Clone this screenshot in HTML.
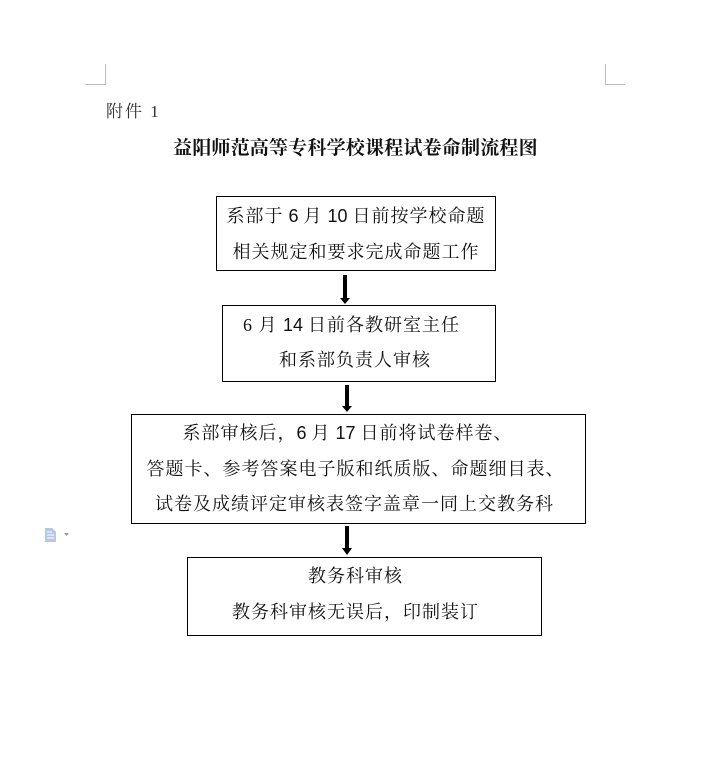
<!DOCTYPE html>
<html><head><meta charset="utf-8"><style>
body{margin:0;width:712px;height:776px;background:#fff;position:relative;overflow:hidden;font-family:"Liberation Serif","Noto Serif CJK SC",serif;color:#111}
.a{position:absolute}
.box{position:absolute;border:1.5px solid #000;box-sizing:border-box}
.t{position:absolute;left:0;right:0;text-align:center;font-size:18px;line-height:20px;white-space:nowrap;letter-spacing:1px}
.n{font-family:"Liberation Sans",sans-serif;letter-spacing:0}
.c{position:absolute;background:#bbb}
</style></head><body>
<div class="c" style="left:105px;top:64px;width:1px;height:20px"></div>
<div class="c" style="left:85px;top:84px;width:21px;height:1px"></div>
<div class="c" style="left:605px;top:64px;width:1px;height:20px"></div>
<div class="c" style="left:605px;top:84px;width:20px;height:1px"></div>
<div class="a" style="left:106px;top:97px;font-size:17px;color:#333;letter-spacing:2px">附件 1</div>
<div class="a" style="left:173px;top:133px;font-size:19px;font-weight:bold;letter-spacing:0.2px;white-space:nowrap">益阳师范高等专科学校课程试卷命制流程图</div>

<div class="box" style="left:216px;top:196px;width:280px;height:75px">
<div class="t" style="top:9px">系部于<span class="n"> 6 </span>月<span class="n"> 10 </span>日前按学校命题</div>
<div class="t" style="top:45px">相关规定和要求完成命题工作</div></div>

<div class="box" style="left:222px;top:305px;width:274px;height:77px">
<div class="t" style="top:9px;left:-15px">6<span> 月 </span><span class="n">14 </span>日前各教研室主任</div>
<div class="t" style="top:44px;left:-8px">和系部负责人审核</div></div>

<div class="box" style="left:131px;top:414px;width:455px;height:110px">
<div class="t" style="top:8px;left:-22px">系部审核后，<span class="n">6 </span>月<span class="n"> 17 </span>日前将试卷样卷、</div>
<div class="t" style="top:44px;left:-6px">答题卡、参考答案电子版和纸质版、命题细目表、</div>
<div class="t" style="top:79px;left:-8px">试卷及成绩评定审核表签字盖章一同上交教务科</div></div>

<div class="box" style="left:187px;top:557px;width:355px;height:79px">
<div class="t" style="top:8px;left:-18px">教务科审核</div>
<div class="t" style="top:44px;left:-18px">教务科审核无误后，印制装订</div></div>

<svg class="a" style="left:0;top:0" width="712" height="776">
<g fill="#000">
<rect x="343" y="275" width="4" height="24"/><polygon points="340,298 350,298 345,304"/>
<rect x="345" y="385" width="4" height="22"/><polygon points="342,406 352,406 347,412"/>
<rect x="345" y="526" width="4" height="23"/><polygon points="342,548 352,548 347,555"/>
</g>
<g>
<path d="M45 528 h7 l4 4 v10 h-11z" fill="#b7c8e6"/>
<path d="M47 532 h5 M47 535 h7 M47 538 h7" stroke="#fff" stroke-width="1"/>
<polygon points="64,533 69,533 66.5,536" fill="#999"/>
</g>
</svg>
</body></html>
